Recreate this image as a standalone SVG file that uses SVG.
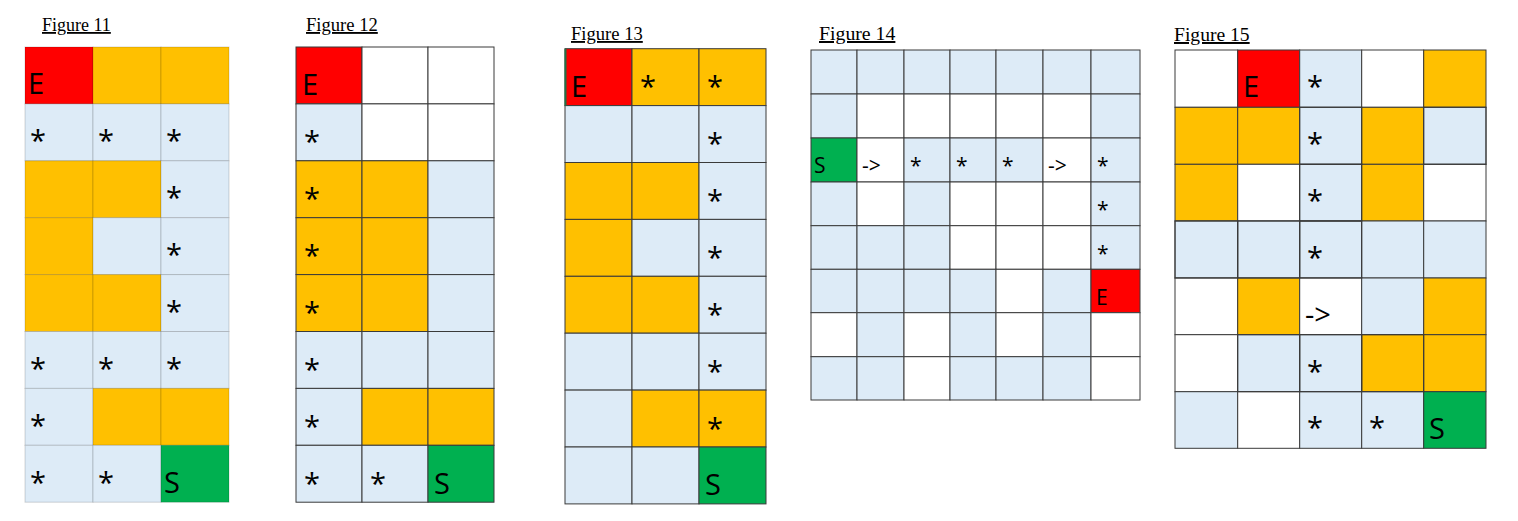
<svg xmlns="http://www.w3.org/2000/svg" width="1518" height="521" viewBox="0 0 1518 521">
<style>
.r{fill:#FF0000}.o{fill:#FFC000}.b{fill:#DDEBF7}.w{fill:#FFFFFF}.g{fill:#00B050}
.f11 rect{stroke:#000;stroke-opacity:0.16;stroke-width:1}
.k rect{stroke:#3A3A3A;stroke-width:1}
.hl{fill:none;stroke:#4472C4;stroke-width:2.6}
.t{font-family:"Liberation Serif","Times New Roman",serif;fill:#000;text-decoration:underline}
.L{font-family:"Open Sans","Noto Sans",sans-serif;font-size:29px;fill:#000}
.M{font-family:"Open Sans","Noto Sans",sans-serif;font-size:21px;fill:#000}
</style>
<rect width="1518" height="521" fill="#FFFFFF"/>

<g id="figure11" class="f11">
<text class="t" x="42" y="31" font-size="18">Figure 11</text>
<rect class="r" x="25" y="47" width="68" height="56.9"/><rect class="o" x="93" y="47" width="68" height="56.9"/><rect class="o" x="161" y="47" width="68" height="56.9"/>
<rect class="b" x="25" y="103.9" width="68" height="56.9"/><rect class="b" x="93" y="103.9" width="68" height="56.9"/><rect class="b" x="161" y="103.9" width="68" height="56.9"/>
<rect class="o" x="25" y="160.8" width="68" height="56.9"/><rect class="o" x="93" y="160.8" width="68" height="56.9"/><rect class="b" x="161" y="160.8" width="68" height="56.9"/>
<rect class="o" x="25" y="217.7" width="68" height="56.9"/><rect class="b" x="93" y="217.7" width="68" height="56.9"/><rect class="b" x="161" y="217.7" width="68" height="56.9"/>
<rect class="o" x="25" y="274.6" width="68" height="56.9"/><rect class="o" x="93" y="274.6" width="68" height="56.9"/><rect class="b" x="161" y="274.6" width="68" height="56.9"/>
<rect class="b" x="25" y="331.5" width="68" height="56.9"/><rect class="b" x="93" y="331.5" width="68" height="56.9"/><rect class="b" x="161" y="331.5" width="68" height="56.9"/>
<rect class="b" x="25" y="388.4" width="68" height="56.9"/><rect class="o" x="93" y="388.4" width="68" height="56.9"/><rect class="o" x="161" y="388.4" width="68" height="56.9"/>
<rect class="b" x="25" y="445.3" width="68" height="56.9"/><rect class="b" x="93" y="445.3" width="68" height="56.9"/><rect class="g" x="161" y="445.3" width="68" height="56.9"/>
<text class="L" x="28" y="94">E</text>
<text class="L" x="30" y="151">*</text><text class="L" x="98" y="151">*</text><text class="L" x="166" y="151">*</text>
<text class="L" x="166" y="208">*</text>
<text class="L" x="166" y="265">*</text>
<text class="L" x="166" y="322">*</text>
<text class="L" x="30" y="379">*</text><text class="L" x="98" y="379">*</text><text class="L" x="166" y="379">*</text>
<text class="L" x="30" y="436">*</text>
<text class="L" x="30" y="493">*</text><text class="L" x="98" y="493">*</text><text class="L" x="164" y="493">S</text>
</g>

<g id="figure12" class="k">
<text class="t" x="306" y="31" font-size="18.6">Figure 12</text>
<rect class="r" x="296" y="47" width="66" height="56.9"/><rect class="w" x="362" y="47" width="66" height="56.9"/><rect class="w" x="428" y="47" width="66" height="56.9"/>
<rect class="b" x="296" y="103.9" width="66" height="56.9"/><rect class="w" x="362" y="103.9" width="66" height="56.9"/><rect class="w" x="428" y="103.9" width="66" height="56.9"/>
<rect class="o" x="296" y="160.8" width="66" height="56.9"/><rect class="o" x="362" y="160.8" width="66" height="56.9"/><rect class="b" x="428" y="160.8" width="66" height="56.9"/>
<rect class="o" x="296" y="217.7" width="66" height="56.9"/><rect class="o" x="362" y="217.7" width="66" height="56.9"/><rect class="b" x="428" y="217.7" width="66" height="56.9"/>
<rect class="o" x="296" y="274.6" width="66" height="56.9"/><rect class="o" x="362" y="274.6" width="66" height="56.9"/><rect class="b" x="428" y="274.6" width="66" height="56.9"/>
<rect class="b" x="296" y="331.5" width="66" height="56.9"/><rect class="b" x="362" y="331.5" width="66" height="56.9"/><rect class="b" x="428" y="331.5" width="66" height="56.9"/>
<rect class="b" x="296" y="388.4" width="66" height="56.9"/><rect class="o" x="362" y="388.4" width="66" height="56.9"/><rect class="o" x="428" y="388.4" width="66" height="56.9"/>
<rect class="b" x="296" y="445.3" width="66" height="56.9"/><rect class="b" x="362" y="445.3" width="66" height="56.9"/><rect class="g" x="428" y="445.3" width="66" height="56.9"/>
<text class="L" x="302" y="95">E</text>
<text class="L" x="304" y="152">*</text>
<text class="L" x="304" y="209">*</text>
<text class="L" x="304" y="266">*</text>
<text class="L" x="304" y="323">*</text>
<text class="L" x="304" y="380">*</text>
<text class="L" x="304" y="437">*</text>
<text class="L" x="304" y="494">*</text><text class="L" x="370" y="494">*</text><text class="L" x="434" y="494">S</text>
</g>

<g id="figure13" class="k">
<text class="t" x="571" y="40" font-size="18.6">Figure 13</text>
<rect class="r" x="565" y="48.7" width="67" height="56.9"/><rect class="o" x="632" y="48.7" width="67" height="56.9"/><rect class="o" x="699" y="48.7" width="67" height="56.9"/>
<rect class="b" x="565" y="105.6" width="67" height="56.9"/><rect class="b" x="632" y="105.6" width="67" height="56.9"/><rect class="b" x="699" y="105.6" width="67" height="56.9"/>
<rect class="o" x="565" y="162.5" width="67" height="56.9"/><rect class="o" x="632" y="162.5" width="67" height="56.9"/><rect class="b" x="699" y="162.5" width="67" height="56.9"/>
<rect class="o" x="565" y="219.4" width="67" height="56.9"/><rect class="b" x="632" y="219.4" width="67" height="56.9"/><rect class="b" x="699" y="219.4" width="67" height="56.9"/>
<rect class="o" x="565" y="276.3" width="67" height="56.9"/><rect class="o" x="632" y="276.3" width="67" height="56.9"/><rect class="b" x="699" y="276.3" width="67" height="56.9"/>
<rect class="b" x="565" y="333.2" width="67" height="56.9"/><rect class="b" x="632" y="333.2" width="67" height="56.9"/><rect class="b" x="699" y="333.2" width="67" height="56.9"/>
<rect class="b" x="565" y="390.1" width="67" height="56.9"/><rect class="o" x="632" y="390.1" width="67" height="56.9"/><rect class="o" x="699" y="390.1" width="67" height="56.9"/>
<rect class="b" x="565" y="447" width="67" height="56.9"/><rect class="b" x="632" y="447" width="67" height="56.9"/><rect class="g" x="699" y="447" width="67" height="56.9"/>
<line x1="565.5" y1="48.7" x2="565.5" y2="105.6" stroke="#217346" stroke-width="2"/>
<text class="L" x="571" y="97">E</text><text class="L" x="640" y="97">*</text><text class="L" x="707" y="97">*</text>
<text class="L" x="707" y="154">*</text>
<text class="L" x="707" y="211">*</text>
<text class="L" x="707" y="268">*</text>
<text class="L" x="707" y="325">*</text>
<text class="L" x="707" y="382">*</text>
<text class="L" x="707" y="439">*</text>
<text class="L" x="705" y="495">S</text>
</g>

<g id="figure14" class="k">
<text class="t" x="819" y="40" font-size="19.8">Figure 14</text>
<rect class="b" x="811" y="50" width="46" height="44"/><rect class="b" x="857" y="50" width="47" height="44"/><rect class="b" x="904" y="50" width="46" height="44"/><rect class="b" x="950" y="50" width="46" height="44"/><rect class="b" x="996" y="50" width="47" height="44"/><rect class="b" x="1043" y="50" width="48" height="44"/><rect class="b" x="1091" y="50" width="49" height="44"/>
<rect class="b" x="811" y="94" width="46" height="44"/><rect class="w" x="857" y="94" width="47" height="44"/><rect class="w" x="904" y="94" width="46" height="44"/><rect class="w" x="950" y="94" width="46" height="44"/><rect class="w" x="996" y="94" width="47" height="44"/><rect class="w" x="1043" y="94" width="48" height="44"/><rect class="b" x="1091" y="94" width="49" height="44"/>
<rect class="g" x="811" y="138" width="46" height="44"/><rect class="w" x="857" y="138" width="47" height="44"/><rect class="b" x="904" y="138" width="46" height="44"/><rect class="b" x="950" y="138" width="46" height="44"/><rect class="b" x="996" y="138" width="47" height="44"/><rect class="w" x="1043" y="138" width="48" height="44"/><rect class="b" x="1091" y="138" width="49" height="44"/>
<rect class="b" x="811" y="182" width="46" height="43.7"/><rect class="w" x="857" y="182" width="47" height="43.7"/><rect class="b" x="904" y="182" width="46" height="43.7"/><rect class="w" x="950" y="182" width="46" height="43.7"/><rect class="w" x="996" y="182" width="47" height="43.7"/><rect class="w" x="1043" y="182" width="48" height="43.7"/><rect class="b" x="1091" y="182" width="49" height="43.7"/>
<rect class="b" x="811" y="225.7" width="46" height="43.6"/><rect class="b" x="857" y="225.7" width="47" height="43.6"/><rect class="b" x="904" y="225.7" width="46" height="43.6"/><rect class="w" x="950" y="225.7" width="46" height="43.6"/><rect class="w" x="996" y="225.7" width="47" height="43.6"/><rect class="w" x="1043" y="225.7" width="48" height="43.6"/><rect class="b" x="1091" y="225.7" width="49" height="43.6"/>
<rect class="b" x="811" y="269.3" width="46" height="43.4"/><rect class="b" x="857" y="269.3" width="47" height="43.4"/><rect class="b" x="904" y="269.3" width="46" height="43.4"/><rect class="b" x="950" y="269.3" width="46" height="43.4"/><rect class="w" x="996" y="269.3" width="47" height="43.4"/><rect class="b" x="1043" y="269.3" width="48" height="43.4"/><rect class="r" x="1091" y="269.3" width="49" height="43.4"/>
<rect class="w" x="811" y="312.7" width="46" height="44"/><rect class="b" x="857" y="312.7" width="47" height="44"/><rect class="w" x="904" y="312.7" width="46" height="44"/><rect class="b" x="950" y="312.7" width="46" height="44"/><rect class="w" x="996" y="312.7" width="47" height="44"/><rect class="b" x="1043" y="312.7" width="48" height="44"/><rect class="w" x="1091" y="312.7" width="49" height="44"/>
<rect class="b" x="811" y="356.7" width="46" height="43.3"/><rect class="b" x="857" y="356.7" width="47" height="43.3"/><rect class="w" x="904" y="356.7" width="46" height="43.3"/><rect class="b" x="950" y="356.7" width="46" height="43.3"/><rect class="b" x="996" y="356.7" width="47" height="43.3"/><rect class="b" x="1043" y="356.7" width="48" height="43.3"/><rect class="w" x="1091" y="356.7" width="49" height="43.3"/>
<text class="M" x="814" y="173">S</text><text class="M" x="862" y="173">-&gt;</text><text class="M" x="910" y="173">*</text><text class="M" x="956" y="173">*</text><text class="M" x="1002" y="173">*</text><text class="M" x="1048" y="173">-&gt;</text><text class="M" x="1097" y="173">*</text>
<text class="M" x="1097" y="217">*</text>
<text class="M" x="1097" y="261">*</text>
<text class="M" x="1096" y="305">E</text>
</g>

<g id="figure15" class="k">
<text class="t" x="1174" y="41" font-size="19.6">Figure 15</text>
<rect class="w" x="1175" y="50" width="62.7" height="57.3"/><rect class="r" x="1237.7" y="50" width="62" height="57.3"/><rect class="b" x="1299.7" y="50" width="62" height="57.3"/><rect class="w" x="1361.7" y="50" width="62" height="57.3"/><rect class="o" x="1423.7" y="50" width="62.3" height="57.3"/>
<rect class="o" x="1175" y="107.3" width="62.7" height="57"/><rect class="o" x="1237.7" y="107.3" width="62" height="57"/><rect class="b" x="1299.7" y="107.3" width="62" height="57"/><rect class="o" x="1361.7" y="107.3" width="62" height="57"/><rect class="b" x="1423.7" y="107.3" width="62.3" height="57"/>
<rect class="o" x="1175" y="164.3" width="62.7" height="56.7"/><rect class="w" x="1237.7" y="164.3" width="62" height="56.7"/><rect class="b" x="1299.7" y="164.3" width="62" height="56.7"/><rect class="o" x="1361.7" y="164.3" width="62" height="56.7"/><rect class="w" x="1423.7" y="164.3" width="62.3" height="56.7"/>
<rect class="b" x="1175" y="221" width="62.7" height="57"/><rect class="b" x="1237.7" y="221" width="62" height="57"/><rect class="b" x="1299.7" y="221" width="62" height="57"/><rect class="b" x="1361.7" y="221" width="62" height="57"/><rect class="b" x="1423.7" y="221" width="62.3" height="57"/>
<rect class="w" x="1175" y="278" width="62.7" height="56.7"/><rect class="o" x="1237.7" y="278" width="62" height="56.7"/><rect class="w" x="1299.7" y="278" width="62" height="56.7"/><rect class="b" x="1361.7" y="278" width="62" height="56.7"/><rect class="o" x="1423.7" y="278" width="62.3" height="56.7"/>
<rect class="w" x="1175" y="334.7" width="62.7" height="57"/><rect class="b" x="1237.7" y="334.7" width="62" height="57"/><rect class="b" x="1299.7" y="334.7" width="62" height="57"/><rect class="o" x="1361.7" y="334.7" width="62" height="57"/><rect class="o" x="1423.7" y="334.7" width="62.3" height="57"/>
<rect class="b" x="1175" y="391.7" width="62.7" height="56.6"/><rect class="w" x="1237.7" y="391.7" width="62" height="56.6"/><rect class="b" x="1299.7" y="391.7" width="62" height="56.6"/><rect class="b" x="1361.7" y="391.7" width="62" height="56.6"/><rect class="g" x="1423.7" y="391.7" width="62.3" height="56.6"/>
<rect class="hl" x="1299.7" y="107.3" width="62" height="57"/><rect class="hl" x="1423.7" y="107.3" width="62.3" height="57"/>
<rect class="hl" x="1299.7" y="164.3" width="62" height="56.7"/>
<rect class="hl" x="1175" y="221" width="62.7" height="57"/><rect class="hl" x="1237.7" y="221" width="62" height="57"/><rect class="hl" x="1299.7" y="221" width="62" height="57"/>
<rect class="hl" x="1237.7" y="334.7" width="62" height="57"/><rect class="hl" x="1299.7" y="334.7" width="62" height="57"/><rect class="hl" x="1361.7" y="334.7" width="62" height="57"/>
<text class="L" x="1243" y="97">E</text><text class="L" x="1307" y="97">*</text>
<text class="L" x="1307" y="154">*</text>
<text class="L" x="1307" y="211">*</text>
<text class="L" x="1307" y="268">*</text>
<text class="L" x="1305" y="325">-&gt;</text>
<text class="L" x="1307" y="382">*</text>
<text class="L" x="1307" y="438">*</text><text class="L" x="1369" y="438">*</text><text class="L" x="1429" y="439">S</text>
</g>
</svg>
